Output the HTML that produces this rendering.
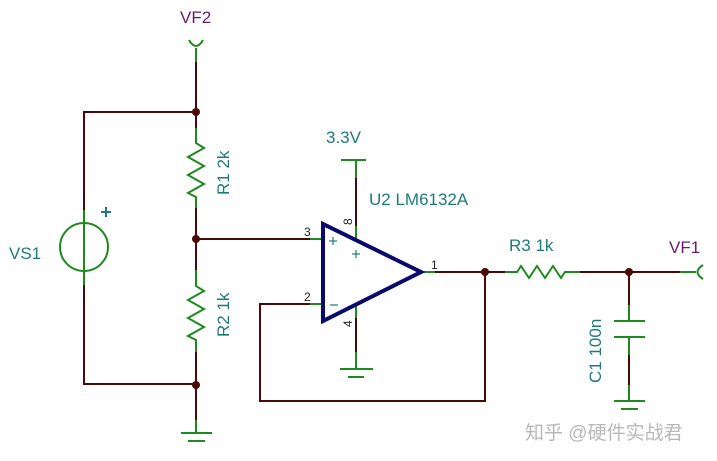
<!DOCTYPE html>
<html><head><style>html,body{margin:0;padding:0;background:#fff;width:717px;height:461px;overflow:hidden}</style></head>
<body>
<svg width="717" height="461" viewBox="0 0 717 461" xmlns="http://www.w3.org/2000/svg" font-family="Liberation Sans, sans-serif">
<g fill="none" stroke-width="2">
<g stroke="#4a0a0a">
<polyline points="196,62 196,112 84,112 84,210"/>
<polyline points="84,285 84,384 196,384 196,420"/>
<line x1="196" y1="112" x2="196" y2="128"/>
<line x1="196" y1="208" x2="196" y2="270"/>
<line x1="196" y1="239" x2="310" y2="239"/>
<line x1="196" y1="352" x2="196" y2="384"/>
<polyline points="310,304 260,304 260,401 485,401 485,272"/>
<line x1="435" y1="272" x2="505" y2="272"/>
<line x1="580" y1="272" x2="680" y2="272"/>
<line x1="356" y1="178" x2="356" y2="226"/>
<line x1="356" y1="318" x2="356" y2="352"/>
<line x1="629" y1="272" x2="629" y2="305"/>
<line x1="629" y1="355" x2="629" y2="385"/>
</g>
<g stroke="#1e8a1e">
<polyline points="196,48 196,62"/>
<path d="M189,40 Q196,52 203,40"/>
<polyline points="196,128 196,143 204,148 188,157 204,166 188,175 204,184 188,193 196,197 196,208"/>
<polyline points="196,270 196,286 204,291 188,300 204,309 188,318 204,327 188,336 196,340 196,352"/>
<circle cx="84" cy="247" r="24"/>
<line x1="84" y1="210" x2="84" y2="285"/>
<line x1="196" y1="420" x2="196" y2="433"/>
<line x1="181" y1="433" x2="212" y2="433"/>
<line x1="188" y1="441" x2="205" y2="441"/>
<line x1="310" y1="239" x2="323" y2="239"/>
<line x1="310" y1="304" x2="323" y2="304"/>
<line x1="341" y1="160" x2="366" y2="160"/>
<line x1="356" y1="160" x2="356" y2="178"/>
<line x1="356" y1="226" x2="356" y2="240"/>
<line x1="356" y1="306" x2="356" y2="318"/>
<line x1="356" y1="352" x2="356" y2="369"/>
<line x1="340" y1="369" x2="373" y2="369"/>
<line x1="348" y1="377" x2="364" y2="377"/>
<line x1="422" y1="272" x2="435" y2="272"/>
<polyline points="505,272 517,272 521,266 529,278 537,266 545,278 553,266 561,278 565,272 580,272"/>
<line x1="629" y1="305" x2="629" y2="321"/>
<line x1="614" y1="321" x2="645" y2="321"/>
<line x1="614" y1="337" x2="645" y2="337"/>
<line x1="629" y1="337" x2="629" y2="355"/>
<line x1="629" y1="385" x2="629" y2="401"/>
<line x1="614" y1="401" x2="645" y2="401"/>
<line x1="621" y1="409" x2="638" y2="409"/>
<line x1="680" y1="272" x2="696" y2="272"/>
<path d="M703,265 Q692,272 703,279"/>
</g>
<polygon points="323,224 323,321 421,272" stroke="#0a0a6e" stroke-width="4" stroke-linejoin="miter"/>
<g stroke="#1e7a7a" stroke-width="1.2">
<line x1="329" y1="241" x2="337" y2="241"/><line x1="333" y1="237" x2="333" y2="245"/>
<line x1="352" y1="254" x2="360" y2="254"/><line x1="356" y1="250" x2="356" y2="258"/>
<line x1="330" y1="305" x2="338" y2="305"/>
<line x1="101" y1="212" x2="111" y2="212" stroke-width="2"/><line x1="106" y1="207" x2="106" y2="217" stroke-width="2"/>
</g>
</g>
<g fill="#4a0a0a">
<circle cx="196" cy="112" r="4"/><circle cx="196" cy="239" r="4"/><circle cx="196" cy="385" r="4"/>
<circle cx="485" cy="272" r="4"/><circle cx="629" cy="272" r="4"/>
</g>
<g fill="#1e7a7a" font-size="17">
<text x="9" y="259">VS1</text>
<text x="326" y="143">3.3V</text>
<text x="369" y="205">U2 LM6132A</text>
<text x="509" y="251">R3 1k</text>
<text transform="translate(229,195) rotate(-90)">R1 2k</text>
<text transform="translate(229,337) rotate(-90)">R2 1k</text>
<text transform="translate(601,383) rotate(-90)">C1 100n</text>
</g>
<g fill="#222" font-size="12">
<text x="304" y="236">3</text><text x="304" y="301">2</text><text x="431" y="269">1</text>
<text transform="translate(352,225) rotate(-90)">8</text>
<text transform="translate(352,327) rotate(-90)">4</text>
</g>
<g fill="#6a1a6a" font-size="17">
<text x="180" y="23">VF2</text>
<text x="669" y="253">VF1</text>
</g>
<text x="525" y="439" fill="#b8b8b8" font-size="19" font-family="Liberation Sans, Noto Sans CJK SC, sans-serif">知乎 @硬件实战君</text>
</svg>
</body></html>
